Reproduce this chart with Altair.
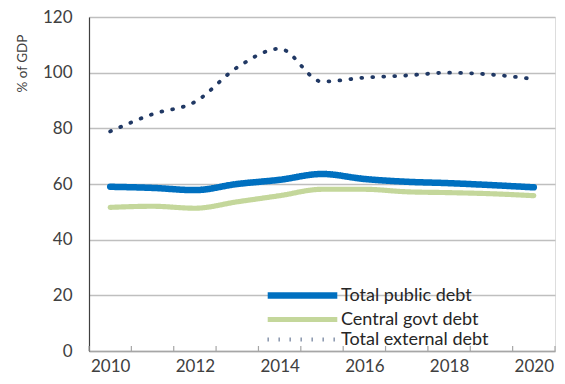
import altair as alt
import pandas as pd

years = list(range(2010, 2021))
public_debt = [59.0, 58.6, 57.8, 60.0, 61.5, 63.6, 61.8, 60.8, 60.3, 59.6, 58.8]
central_debt = [51.6, 52.0, 51.3, 53.6, 55.8, 58.1, 58.1, 57.2, 56.9, 56.5, 55.8]
external_debt = [78.9, 85.1, 89.5, 101.9, 108.6, 96.8, 98.2, 99.0, 100.0, 99.3, 97.7]

series_names = ["Total public debt", "Central govt debt", "Total external debt"]
series_colors = ["#0070C0", "#C4D79B", "#203864"]
series_widths = [6.5, 3.8, 4.6]
series_dash = [[1, 0], [1, 0], [0.8, 10.2]]

y_ticks = [0, 20, 40, 60, 80, 100, 120]
x_boundaries = [y - 0.5 for y in years] + [years[-1] + 0.5]

rows = []
for name, vals in zip(series_names, [public_debt, central_debt, external_debt]):
    for yr, v in zip(years, vals):
        rows.append({"year": yr, "value": v, "series": name})
df = pd.DataFrame(rows)
ticks_df = pd.DataFrame({"b": x_boundaries})

FONT = "Lato"
TXT = "#404040"
W, H = 466, 334

x_scale = alt.Scale(domain=[2009.5, 2020.5], nice=False, zero=False)
y_scale = alt.Scale(domain=[0, 120], nice=False)

lines = alt.Chart(df).mark_line(strokeCap="round", strokeJoin="round", interpolate="monotone").encode(
    x=alt.X("year:Q", scale=x_scale,
            axis=alt.Axis(values=x_boundaries, title=None, grid=False, ticks=False,
                          labelExpr="(datum.value + 0.5) % 2 == 0 ? format(datum.value + 0.5, 'd') : ''",
                          labelOffset=W / 22, labelPadding=7, labelFont=FONT, labelFontSize=17,
                          labelColor=TXT, domainColor="#A6A6A6", domainWidth=1.5,
                          labelFlush=False, labelOverlap=False)),
    y=alt.Y("value:Q", scale=y_scale,
            axis=alt.Axis(values=y_ticks, title="% of GDP", ticks=False, labelPadding=17,
                          labelFont=FONT, labelFontSize=17, labelColor=TXT,
                          gridColor="#BFBFBF", gridWidth=1.3, domainColor="#404040", domainWidth=1.2,
                          titleFont=FONT, titleFontSize=13.5, titleFontWeight="normal", titleColor=TXT,
                          titleAngle=270, titleX=-67, titleY=46, titleAlign="center",
                          titleBaseline="middle")),
    color=alt.Color("series:N", scale=alt.Scale(domain=series_names, range=series_colors),
                    sort=series_names,
                    legend=alt.Legend(title=None, orient="none", legendX=204, legendY=269,
                                      symbolType="M-5.8,0H5.8", symbolSize=144, labelFont=FONT,
                                      labelFontSize=18, labelColor="#262626", labelOffset=29,
                                      rowPadding=-0.5, padding=0)),
    strokeWidth=alt.StrokeWidth("series:N", scale=alt.Scale(domain=series_names, range=series_widths),
                                sort=series_names),
    strokeDash=alt.StrokeDash("series:N", scale=alt.Scale(domain=series_names, range=series_dash),
                              sort=series_names),
    order=alt.Order("year:Q"),
)

tick_marks = alt.Chart(ticks_df).mark_rule(color="#A6A6A6", strokeWidth=1.2).encode(
    x=alt.X("b:Q", scale=x_scale),
    y=alt.datum(0),
    y2=alt.datum(1.8),
)

chart = alt.layer(lines, tick_marks).properties(
    width=W, height=H,
    autosize=alt.AutoSizeParams(type="none"),
    padding={"left": 81, "top": 9, "right": 2, "bottom": 25},
).configure_view(stroke="#595959", strokeWidth=1.2).configure(background="white")

chart.save("out.html", embed_options={"renderer": "svg", "actions": False})
